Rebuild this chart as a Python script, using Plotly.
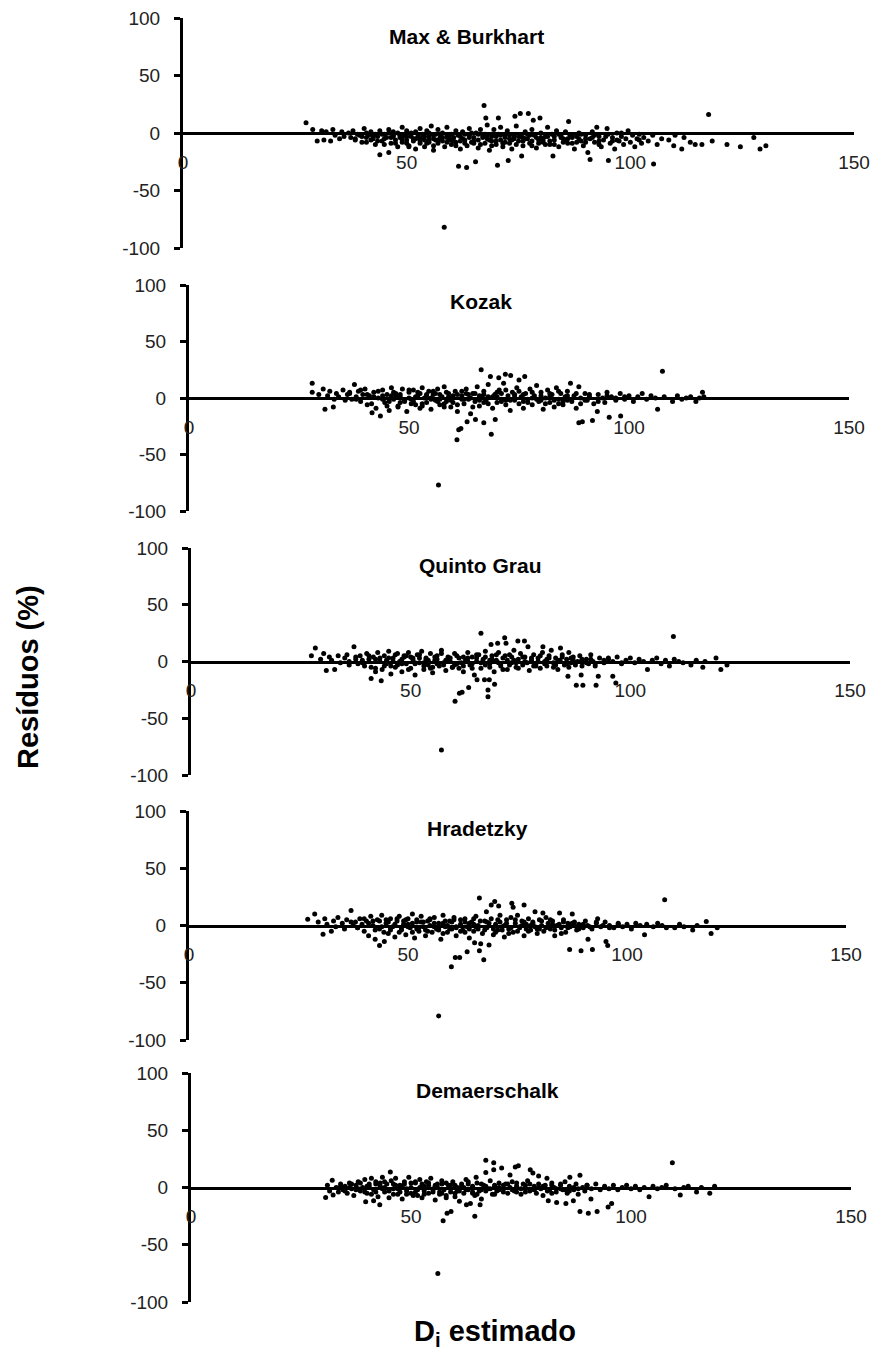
import plotly.graph_objects as go

# ---------------- data ----------------
titles = ["Max & Burkhart", "Kozak", "Quinto Grau", "Hradetzky", "Demaerschalk"]
x_ticks = [0, 50, 100, 150]
x_tick_text = ["0", "50", "100", "150"]
y_ticks = [-100, -50, 0, 50, 100]
y_tick_text = ["-100", "-50", "0", "50", "100"]

x_max = [27.5, 29, 30, 31, 31.5, 32, 33, 33.5, 34, 35,
         35.5, 36, 37, 37.5, 38, 38.5, 39, 40, 40.5, 41,
         41.5, 42, 42.5, 43, 43.5, 44, 44, 44.5, 45, 45.5,
         46, 46, 46.5, 47, 47.5, 48, 48, 48.5, 49, 49,
         49.5, 50, 50, 50.5, 51, 51.5, 52, 52, 52.5, 53,
         53, 53.5, 54, 54, 54.5, 55, 55, 55.5, 56, 56,
         56.5, 57, 57, 57.5, 58, 58, 58.4, 58.5, 59, 59,
         59.5, 60, 60, 60.5, 61, 61, 61.6, 62, 62, 62.5,
         63, 63.4, 63.5, 64, 64, 64.5, 65, 65.4, 65.5, 66,
         66, 66.5, 67, 67.3, 67.7, 67.5, 68, 68, 68.5, 69,
         69, 69.5, 70, 70, 70.3, 70.5, 71, 71, 71.5, 72,
         72, 72.7, 72.5, 73, 73.5, 74, 74.2, 74.5, 75, 75.4,
         75.5, 75.7, 76, 76.5, 77, 77.2, 77.5, 78, 78.3, 78.5,
         79, 79.5, 79.8, 80, 80.5, 81, 81.5, 82, 82.5, 82.7,
         83, 83.5, 84, 84.5, 85, 85.5, 86, 86.2, 86.5, 87,
         87.5, 88, 88.5, 89, 89.5, 90, 90.5, 91, 91, 91.5,
         92, 92.5, 93, 93.5, 94, 94.8, 95, 95.1, 95.5, 96,
         96.5, 97, 97.5, 98, 98.5, 99, 99.5, 100, 100.5, 101,
         101.5, 102, 102.5, 103, 104, 105.2, 105, 106, 107, 108.6,
         109.7, 110, 111.5, 112, 113.4, 114.5, 116, 117.5, 118.3, 121.6,
         124.6, 127.6, 129, 130.3,
         41, 43, 45, 47, 49, 51, 52, 54, 56, 57,
         59, 60, 62, 63, 65, 66, 68, 69, 71, 73,
         74, 76, 77, 78, 80, 81, 83, 84, 85, 87,
         88, 90, 92, 93, 96, 98, 102, 46, 50, 55,
         38.5, 39.5, 40, 41, 42, 42.5, 43.5, 44.5, 45, 46.5,
         47, 47.5, 48.5, 49, 50, 50.5, 51.5, 52.5, 53, 53.5,
         54.5, 55, 56, 56.5, 57.5, 58, 59, 59.5, 60.5, 61,
         61.5, 62.5, 63, 64, 64.5, 65, 66.5, 67, 67.5, 68.5,
         69, 70, 70.5, 71.5, 72, 73, 73.5, 74.5, 75, 76,
         76.5, 77.5, 78, 79, 79.5, 80.5, 81.5, 82, 83, 84.5,
         85.5, 86, 87, 88.5, 89, 90, 91.5, 93, 94.5, 97]
y_max = [9, 3, -7, 2, -6, 1, -7, 3, -2, -5,
         1, -3, 0, -4, 2, -6, -1, -3, 4, -8,
         -2, 1, -5, -10, -3, 2, -19, -7, -1, -4,
         -17, 3, -9, -2, -6, 0, -12, -4, 5, -8,
         -2, -6, 2, -11, -3, -7, 1, -14, -4, -9,
         4, -1, -6, -12, 2, -3, -8, 6, -5, -15,
         -1, -9, 3, -4, -7, 0, -82, -12, -2, 5,
         -6, -10, -1, -4, 2, -8, -29, -14, -3, 1,
         -6, -30, -11, -2, 4, -8, -4, -25, 0, -13,
         -6, 3, -2, 24, 13, -9, -5, 7, -15, -1,
         -7, 3, -10, -3, -28, 13, -6, 5, -12, -1,
         -8, -24, 2, -5, -14, -2, 14.5, 6, -7, 17,
         -3, -20, -11, 1, -5, 17, -9, 3, 11, -2,
         -13, -6, 13, 0, -8, -3, 5, -10, -1, -20,
         -6, 2, -12, -4, -8, 1, -5, 10, -2, -9,
         -14, -3, 0, -7, -11, -2, -17, -23, -5, 1,
         -8, 5, -3, -12, -6, 4, -1, -24, -9, -4,
         -14, 0, -7, -3, -10, -5, 2, -8, -2, -12,
         -5, -1, -9, -4, -7, -27, -2, -10, -5, -6,
         -11, -2, -14, -4, -8, -10, -10, 16, -7, -10,
         -12, -4, -14, -11,
         -4, -1, -5, -3, -4, 0, -5, -3, -2, -6,
         -4, -6, -7, -1, -9, -1, -2, -11, -2, -9,
         -5, -4, -1, -7, -4, -10, -3, -1, -5, -4,
         -8, -5, -2, -7, -7, 0, -6, 0, -9, -6,
         -5, -2, -8, 0, -6, -3, -7, -1, -10, -4,
         1, -9, -2, -6, -3, -12, -5, -1, -7, -4,
         -9, 0, -11, -6, -1, -4, -8, -3, -7, -11,
         -2, -5, -9, -4, 0, -7, -10, -4, -1, -6,
         -3, -7, -1, -9, -4, -2, -6, -10, -3, -7,
         -5, -2, -11, -4, -9, -6, -3, -7, -10, -2,
         -6, -9, -2, -5, -1, -8, -4, -10, -3, -6]

x_kozak = [28, 28, 29.5, 30.5, 30.9, 31.5, 32, 32.8, 33, 33.5,
           34, 35, 35.5, 36, 36.5, 37.6, 38, 38.5, 39, 39.5,
           40, 40.5, 41, 41.6, 42, 42.5, 43, 43.5, 44, 44.5,
           45, 45.5, 46, 46.5, 47, 47.5, 48, 48.5, 49, 49.5,
           50, 50.5, 51, 51.5, 52, 52.5, 53, 53.5, 54, 54.5,
           55, 55.5, 56, 56.5, 56.7, 57, 57.5, 58, 58.5, 59,
           59.5, 60, 60.5, 60.9, 61, 61.3, 61.8, 62, 62.5, 63,
           63.2, 63.5, 64, 64.5, 65, 65.1, 65.5, 66, 66.4, 66.5,
           67, 67, 67.5, 68, 68.5, 68.7, 69, 69.5, 69.6, 70,
           70.4, 70.5, 71, 71.5, 71.9, 72, 72.5, 73, 73.1, 73.5,
           74, 74.5, 75, 75, 75.5, 76, 76.3, 76.5, 77, 77.5,
           78, 78.5, 79, 79.5, 80, 80.5, 81, 81.5, 82, 82.5,
           83, 83.5, 84, 84.5, 85, 85.5, 86, 86.7, 87, 87.5,
           88, 88.6, 88.6, 89, 89.4, 90, 90.5, 91, 91.7, 92,
           92.8, 93, 94, 94.5, 95, 95.5, 96, 97, 98, 98.1,
           99, 100, 101, 102, 103, 104, 105, 106, 106.5, 107.6,
           108, 109.9, 111, 112, 113, 114, 115.2, 116, 116.7, 117,
           42, 44, 46, 48, 50, 51, 52, 53, 55, 56,
           57, 58, 59, 60, 61, 62, 63, 64, 66, 67,
           68, 70, 71, 72, 74, 76, 78, 80, 82, 84,
           86, 89, 45, 47, 54, 39, 37,
           36.5, 38, 40.5, 41.5, 43, 44, 45.5, 46.5, 47.5, 48,
           49, 50, 50.5, 51.5, 52.5, 53, 54, 55, 55.5, 56.5,
           57, 58, 58.5, 59.5, 60, 61, 62, 62.5, 63.5, 64.5,
           65, 66, 67, 68, 69, 70, 71, 72, 73, 74,
           75, 76, 77, 78, 79, 80, 81, 82, 83, 84,
           85, 86, 87, 88, 90, 91, 93, 95, 97, 99]
y_kozak = [13, 5, 3, 8, -10, 2, 6, -8, -1, 4,
           1, 7, -2, 3, 5, 12, 1, 6, -3, 3,
           8, -6, 2, -13, 5, -9, 0, -16, 7, -4,
           3, -11, 9, -1, 4, -7, 1, 8, -3, -12,
           5, -1, 7, -6, 2, -9, 9, 0, -4, 6,
           -10, 3, -2, 8, -77, -6, 1, 10, -3, 4,
           -8, 0, 6, -37, -12, -28, -27, 2, -5, 8,
           -21, -1, -14, 4, -3, -19, 10, -7, 25, 1,
           -22, 6, -2, 12, 19, -32, -9, 3, -19, -4,
           18, 7, -1, 13, 21, -6, 2, -11, 20, 5,
           -2, 9, 16, -5, 1, -9, 19, 4, -1, 8,
           -6, 2, 11, -3, 5, -10, 0, 7, -4, 3,
           -8, 9, -1, 4, -6, 1, 6, 13, -3, 2,
           -9, 10, -22, 0, -21, 4, -2, 1, -20, -5,
           -12, 3, 0, -4, 5, -17, 1, -2, 4, -16,
           -1, 2, -3, 1, 4, -1, 2, 0, -10, 23.6,
           1, -3, 2, -1, 0, 1, -3, 0, 5, 1,
           1, -1, 2, -4, 0, -3, 5, -5, 0, 4,
           -1, -8, 1, -4, 3, -1, 4, 0, 2, -4,
           1, 1, 4, -2, 3, -3, 0, -2, 1, -5,
           -2, -5, -7, 2, 3, 7, -1,
           4, -1, 3, -5, 6, 2, -3, 5, -8, 3,
           -2, 7, -5, 1, 4, -7, 2, -1, 6, -3,
           3, -5, 5, -2, 2, -6, 6, -1, 3, -8,
           4, -2, 3, -5, 1, 5, -3, 7, -2, 2,
           6, 3, -4, 5, -1, 2, -5, 4, -2, 6,
           -3, 2, -1, 4, -2, 3, -3, 2, 0, 1]

x_quinto = [27.4, 28.3, 29.5, 30.2, 30.8, 31.5, 32, 32.7, 33.5, 34,
            35, 35.5, 36, 37.1, 37.5, 38, 38.5, 39, 39.5, 40,
            40.5, 41, 41, 41.5, 42, 42.5, 43, 43.3, 43.5, 44,
            44.5, 45, 45.5, 46, 46.5, 47, 47.5, 48, 48.5, 49,
            49.5, 50, 50.5, 51, 51.5, 52, 52.5, 53, 53.5, 54,
            54.5, 55, 55.5, 56, 56.5, 57, 57, 57.5, 58, 58.5,
            59, 59.5, 60, 60.1, 60.5, 61, 61.1, 61.7, 62, 62.5,
            63, 63.2, 63.5, 64, 64.5, 65, 65.1, 65.5, 66, 66,
            66.5, 66.8, 67, 67.6, 67.6, 67.9, 68, 68.3, 68.5, 69,
            69.1, 69.5, 69.8, 70, 70.5, 71, 71.4, 71.7, 72, 72.5,
            73, 73.5, 74, 74.4, 74.5, 75, 75.5, 75.9, 76, 76.7,
            77, 77.5, 78, 78.5, 79, 79.5, 80, 80.1, 80.5, 81,
            81.5, 82, 82.5, 83, 83.5, 84, 84.1, 84.5, 85, 85.5,
            85.8, 86, 86.5, 87, 87.7, 88, 88.5, 88.8, 89, 89.2,
            90, 90.5, 91, 91.5, 92, 92.2, 92.7, 93, 94, 95,
            96, 96, 96.7, 97, 98, 99, 100, 101, 102, 103,
            103.9, 105, 106, 107, 108, 108.9, 109.8, 110, 111, 112,
            113.8, 115, 116.5, 117, 119.5, 120.6, 122,
            42, 44, 46, 47, 48, 50, 51, 52, 53, 54,
            55, 56, 58, 59, 60, 61, 62, 63, 64, 65,
            67, 68, 70, 71, 72, 73, 74, 76, 78, 79,
            81, 83, 86, 87, 89, 45, 49,
            36, 37.5, 39, 40.5, 42, 43, 44.5, 45.5, 46.5, 48,
            48.5, 49.5, 50.5, 51, 52, 53, 53.5, 54.5, 55.5, 56,
            57, 57.5, 58.5, 59.5, 60.5, 61.5, 62, 63, 64, 65,
            66, 67, 68, 68.5, 69.5, 70.5, 71.5, 72.5, 73.5, 74.5,
            75.5, 76.5, 77.5, 78.5, 79.5, 80.5, 81.5, 82.5, 83.5, 84.5,
            85.5, 86.5, 87.5, 89, 90, 91, 92, 94, 95, 98]
y_quinto = [5, 12, 2, 7, -8, 4, 1, -7, 5, -1,
            3, 6, 0, 13, 2, -2, 5, 1, -4, 7,
            2, -15, -5, 4, -9, 8, 0, -17, -7, 5,
            -2, 9, -11, 3, -5, 7, 0, -9, 4, -2,
            8, -6, 2, -12, 6, -1, 9, -7, 3, -3,
            7, -10, 1, 5, -4, -78, 10, -1, -8, 4,
            0, -5, 7, -35, -2, 3, -28, -27, -9, 1,
            8, -23, -3, 4, -12, 0, -16, 6, 25, -6,
            2, -16, 9, -31, -25, -16, -2, 15, 5, -9,
            -20, 1, 16, 8, -4, 3, 21, 16, -7, 6,
            -1, 10, -5, 18, 2, 7, -3, 18, 4, 13,
            -8, 1, 6, -2, 3, -6, 8, 13, 0, -4,
            5, 10, -1, 3, -7, 1, 12, 6, -3, 2,
            -13, 8, -1, 4, -21, 0, 5, -12, -4, -21,
            2, -2, 6, 0, -4, -21, -13, 3, -1, 2,
            -13, 0, -19, 4, -2, 1, 3, -1, 2, 0,
            -7, 1, 3, -2, 1, -4, 22, 2, 0, -1,
            -3, 1, -5, 0, 3, -7, -3,
            2, -4, 0, -3, 2, 4, -2, 3, -1, 1,
            -5, 2, 1, 3, -3, -6, 4, 0, -6, 3,
            -3, 1, -1, -7, 1, 4, -1, 0, -4, 0,
            2, -3, -5, 1, 2, 3, 5,
            -3, 4, -1, 5, -6, 3, 1, -4, 6, -2,
            5, -7, 3, -1, 6, -4, 2, -6, 4, -2,
            7, -3, 2, -5, 5, -1, -4, 3, -2, 6,
            -1, 4, -5, 2, 6, -2, 5, -3, 1, -6,
            4, -1, 3, -4, 5, -2, 3, -5, 1, 4,
            -2, 3, -3, 1, -1, 2, -2, 1, 3, -1]

x_hradetzky = [27.1, 28.7, 29.5, 30.6, 31, 31.5, 32.5, 33, 33.5, 34,
               35, 35.5, 36, 37, 37.5, 38, 38.5, 39, 39.5, 40,
               40.5, 41, 41.5, 42, 42.5, 43, 43.5, 43.5, 44, 44.6,
               45, 45.5, 46, 46.5, 47, 47.5, 48, 48.5, 49, 49.5,
               50, 50.5, 51, 51.5, 52, 52.5, 53, 53.5, 54, 54.5,
               55, 55.5, 56, 56.5, 57, 57, 57.5, 58, 58.5, 59,
               59.5, 59.9, 60, 60.5, 60.8, 61, 61.8, 62, 62.5, 63,
               63.5, 63.5, 64, 64.5, 65, 65.2, 65.5, 66, 66.3, 66.3,
               66.6, 67, 67.3, 67.5, 67.9, 68, 68.5, 69, 69, 69.5,
               69.8, 70, 70.5, 70.7, 71, 71.5, 72, 72.5, 73, 73.5,
               73.7, 74, 74, 74.5, 75, 75.5, 76, 76.5, 76.5, 77,
               77.5, 78, 78.5, 79, 79, 79.5, 80, 80.5, 80.8, 81,
               81.5, 82, 82.5, 83, 83.5, 84, 84.6, 85, 85.5, 86,
               86.5, 86.9, 87, 87.5, 88, 88.5, 89, 89.5, 90, 90.5,
               91, 91.1, 92, 92.1, 93, 93.3, 94, 95, 95.2, 95.6,
               96, 97, 98, 99, 100, 101, 102, 103, 104, 104.5,
               106, 107, 108, 108.6, 109, 110.9, 112, 113, 115, 116,
               118.1, 119.2, 120.6,
               42, 44, 45, 46, 47, 48, 49, 50, 51, 52,
               53, 54, 55, 56, 57, 58, 59, 60, 61, 62,
               63, 64, 65, 66, 68, 70, 71, 72, 73, 75,
               76, 77, 78, 80, 82, 83, 85, 88,
               37, 38.5, 40, 41, 42.5, 43.5, 44.5, 45.5, 46, 47.5,
               48.5, 49.5, 50, 51, 52, 52.5, 53.5, 54.5, 55, 56,
               57, 58, 58.5, 59.5, 60.5, 61, 62, 63, 64, 65,
               65.5, 66.5, 67.5, 68.5, 69.5, 70.5, 71.5, 72.5, 73.5, 74.5,
               75.5, 76.5, 77.5, 78.5, 79.5, 80.5, 81.5, 82.5, 83.5, 84.5,
               85.5, 86.5, 87.5, 89, 90, 91.5, 93, 94.5, 96, 98]
y_hradetzky = [5.5, 10, 3, -7.6, 6, 1, -5, 4, -1, 7,
               2, -3, 5, 13, 0, 3, -2, 6, 1, -5,
               4, -9, 8, 0, -12, 5, -17.5, -3, 9, -14,
               2, -7, 6, -1, -10, 4, 8, -4, 1, -8,
               6, -2, 10, -11, 3, -5, 8, -1, -9, 4,
               0, -6, 7, -3, -79, 2, -12, 9, -1, -6,
               4, -36, -3, 7, -28, -9, -28, 1, -4, 6,
               -23, -1, -11, 3, -5, -15, 8, 0, 24, -22,
               -16, -7, -30, 4, 12, -2, -17, 18, 6, -8,
               21, 1, -4, 17, 9, -1, -10, 5, -3, 7,
               19.5, 16, -6, 2, 9, -2, 4, 18, -9, 1,
               6, -4, 3, 12, -1, -7, 5, 0, 11, -5,
               7, 2, -3, 4, -9, 0, 11, -2, 5, -6,
               2, -21, -1, 10, 3, -4, 1, -22, -2, 4,
               0, -12, -3, -21, 2, 6, -1, 3, -14, -17.5,
               0, -2, 2, -1, 1, -3, 2, 0, -8, 1,
               -1, 2, 0, 22.4, -2, -2, 1, -1, -4, 0,
               3.5, -7, -2,
               4, -1, 5, -4, 1, -6, 4, -1, 2, -3,
               3, -4, 5, -1, -4, 2, 0, 3, -2, 5,
               -6, 2, 1, -3, 3, -6, 3, 0, -7, -5,
               0, -3, 0, -3, -1, 1, -7, 0,
               3, -2, 6, 2, -4, 4, -6, 3, -2, 6,
               -3, 5, 1, -6, 5, -2, 3, -5, 6, 2,
               -2, -7, 4, -3, 5, -1, -5, 3, -3, 6,
               -1, 4, -4, 2, -3, 5, -4, 2, -2, 5,
               -1, 3, -5, 2, -3, 4, -2, 5, -4, 1,
               3, -2, 2, -3, 1, -1, 3, 0, -2, 1]

x_demaer = [30.6, 31, 31.5, 32.1, 32.3, 33, 33.5, 34, 34.5, 35,
            35.5, 36, 36.5, 37, 37.5, 38, 38.5, 39, 39.5, 39.7,
            40, 40.5, 41, 41.5, 41.5, 42, 42.5, 42.9, 43, 43.5,
            44, 44.5, 45, 45.3, 45.5, 46, 46.5, 47, 47.5, 48,
            48.5, 49, 49.5, 50, 50.5, 51, 51.5, 52, 52.5, 53,
            53.5, 54, 54.5, 55, 55.5, 56, 56.1, 56.5, 57, 57.3,
            57.5, 58, 58.2, 58.5, 59, 59.1, 59.5, 60, 60.5, 61,
            61.5, 62, 62.5, 62.6, 63, 63.5, 64, 64.5, 64.5, 64.8,
            65, 65.5, 65.7, 66, 66.5, 67, 67, 67.5, 68, 68.5,
            68.8, 68.8, 69, 69.5, 70, 70.6, 71, 71.5, 72, 72.5,
            72.5, 73, 73.5, 73.7, 74, 74.4, 75, 75.5, 76, 76.5,
            77, 77.1, 77.7, 78, 78.5, 79, 79, 79.5, 80, 80.5,
            80.9, 81.2, 81.5, 82, 82.5, 83, 83.1, 84, 84.5, 85,
            85.2, 85.5, 86, 86.1, 86.9, 87, 87.5, 88, 88.4, 88.4,
            89, 89.5, 90, 90.3, 90.9, 91, 92, 92.3, 93, 94,
            94.8, 95, 95.6, 96, 97, 98, 99, 100, 101, 102,
            103, 104.1, 105, 106, 107, 108, 109.4, 110, 111.2, 112,
            113, 114.9, 116, 117.9, 119,
            36, 38, 40, 42, 43, 44, 45, 46, 47, 48,
            49, 50, 51, 52, 53, 54, 55, 56, 57, 58,
            59, 60, 61, 62, 63, 64, 66, 67, 69, 70,
            71, 74, 76, 78, 82, 84,
            34, 35, 36.5, 37.5, 38.5, 39.5, 40.5, 41, 42, 43.5,
            44, 45, 46, 46.5, 47.5, 48.5, 49, 50, 51, 51.5,
            52.5, 53, 54, 55, 55.5, 56.5, 57, 58, 59, 60,
            60.5, 61.5, 62.5, 63, 64, 65, 66, 67, 68, 69,
            70, 71, 72, 73, 74, 75, 76, 77, 78, 79,
            80, 81, 82, 83, 84, 85, 86, 87, 88, 90]
y_demaer = [-8.7, 2, -3, 6.4, -6.6, 0, -4, 3, -2, 1,
            -5, 4, -1, -7, 2, 5, -3, 0, 7, -12.4,
            -5, 3, 8, -11.6, -2, 5, -8, -15, 1, 9,
            -4, 3, -9, 13.5, 6, -1, 8, -6, 2, -10,
            5, -3, 9, 0, -7, 4, -2, 7, -9, 1,
            5, -5, 8, -1, -11, 3, -75, -6, 6, -29,
            -2, -9, -22.5, 2, -4, -21, 5, -8, 0, -12,
            3, -5, 7, -15, -2, -14, 1, -25, -7, 9,
            4, -3, -15, -10, 2, 23.7, 13, -1, 6, -6,
            21.7, 15.6, 1, -3, 4, 17, -1, 3, -5, 11,
            0, 5, -3, 18, 1, 19, -6, 3, -1, 6,
            -3, 15.6, 12.7, 1, -5, 10, 3, -1, -7, 2,
            8, -11.6, -2, 4, 0, -4, -13, 2, -2, 5,
            -14, -5, 1, 9, -11.6, -2, 3, -6, 10.7, -21,
            0, -3, 2, -22.5, -10, -1, 3, -21, -2, 1,
            -17, -1, -14, 2, -2, 0, 2, -1, 1, -2,
            0, -8, 1, -1, 0, 2, 21.7, -1, -6.6, 0,
            1, -4, 0, -5, 1,
            0, -1, 1, -4, 4, 0, -3, 3, -1, 1,
            -6, 4, -4, 0, -6, 2, -4, 0, -5, 4,
            -1, 2, -3, 0, 3, -4, -2, 1, -6, -2,
            2, -4, 2, -2, -5, -1,
            1, -3, 3, -2, 4, -4, 1, -6, 3, -1,
            5, -2, -6, 2, -4, 3, -1, -5, 5, -7,
            3, -3, 4, -2, 2, -4, 3, -7, 2, -5,
            -3, 1, -2, 5, -5, -6, 3, -3, -1, 2,
            0, -4, 3, -2, 4, -1, -4, 3, -2, 0,
            1, -3, 2, -1, 3, -2, -3, 0, -1, 2]

series_x = [x_max, x_kozak, x_quinto, x_hradetzky, x_demaer]
series_y = [y_max, y_kozak, y_quinto, y_hradetzky, y_demaer]

# ---------------- layout geometry (pixels) ----------------
W, H = 875, 1352
tops = [18, 285, 548, 811, 1073]
bottoms = [248, 511, 775, 1040, 1302]
x_left = [183, 189, 191, 189, 191]
x_right = [854, 849, 850, 846, 851]
title_pos = [(466, 37), (481, 302), (480, 565), (477, 828), (487, 1090)]

FONT = "Liberation Sans, Arial, sans-serif"
fig = go.Figure()
layout = dict(
    template="none",
    width=W, height=H, margin=dict(l=0, r=0, t=0, b=0, pad=0),
    paper_bgcolor="white", plot_bgcolor="rgba(0,0,0,0)",
    showlegend=False, font=dict(family=FONT, color="#000"),
)
annotations = []
for i in range(5):
    n = "" if i == 0 else str(i + 1)
    fig.add_trace(go.Scatter(
        x=series_x[i], y=series_y[i], mode="markers",
        marker=dict(size=5, color="black", line=dict(width=0)),
        xaxis="x" + n, yaxis="y" + n, hoverinfo="x+y",
    ))
    ydom = [(H - bottoms[i]) / H, (H - tops[i]) / H]
    zero_px = (tops[i] + bottoms[i]) / 2
    layout["xaxis" + n] = dict(
        domain=[x_left[i] / W, x_right[i] / W], range=[0, 150],
        anchor="free", position=(H - zero_px) / H, automargin=False,
        showline=True, linecolor="black", linewidth=3,
        showgrid=False, zeroline=False, ticks="",
        tickvals=x_ticks, ticktext=x_tick_text, ticklabelstandoff=11,
        tickfont=dict(family=FONT, size=19, color="#222"),
    )
    layout["yaxis" + n] = dict(
        domain=ydom, range=[-100, 100], anchor="x" + n, automargin=False,
        showline=True, linecolor="black", linewidth=3,
        showgrid=False, zeroline=False,
        ticks="outside", ticklen=6, tickwidth=3, tickcolor="black",
        tickvals=y_ticks, ticktext=y_tick_text, ticklabelstandoff=10,
        tickfont=dict(family=FONT, size=19, color="#222"),
    )
    tx, ty = title_pos[i]
    annotations.append(dict(
        text="<b>" + titles[i] + "</b>", x=tx / W, y=(H - ty) / H,
        xref="paper", yref="paper", xanchor="center", yanchor="middle",
        showarrow=False, font=dict(family=FONT, size=21, color="black"),
    ))

annotations.append(dict(
    text="<b>Resíduos (%)</b>", x=28 / W, y=(H - 677) / H, textangle=-90,
    xref="paper", yref="paper", xanchor="center", yanchor="middle",
    showarrow=False, font=dict(family=FONT, size=29, color="black"),
))
annotations.append(dict(
    text="<b>D<sub>i</sub> estimado</b>", x=495 / W, y=(H - 1333) / H,
    xref="paper", yref="paper", xanchor="center", yanchor="middle",
    showarrow=False, font=dict(family=FONT, size=29, color="black"),
))
layout["annotations"] = annotations
fig.update_layout(**layout)
fig.write_html("out.html")
